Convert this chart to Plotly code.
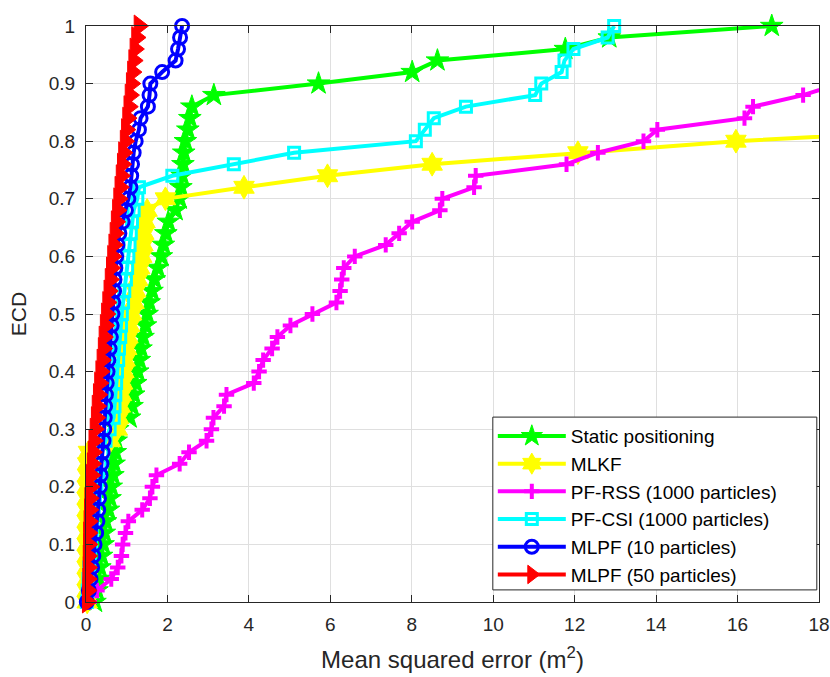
import plotly.graph_objects as go

# ECD levels (0, 0.02, ..., 1.0)
ecd = [round(0.02 * k, 2) for k in range(51)]

static_positioning = [0.22, 0.27, 0.31, 0.34, 0.38, 0.42, 0.45, 0.48, 0.55, 0.59, 0.62, 0.66, 0.69, 0.72, 0.74, 0.78,
                      1.07, 1.13, 1.17, 1.22, 1.27, 1.31, 1.35, 1.40, 1.46, 1.50, 1.55, 1.62, 1.68, 1.76, 1.85,
                      1.90, 1.96, 2.02, 2.20, 2.30, 2.33, 2.36, 2.38, 2.40, 2.44, 2.50, 2.55, 2.60,
                      3.14, 5.71, 8.01, 8.63, 11.77, 12.85, 16.84]
mlkf = [0.03, 0.03, 0.03, 0.03, 0.03, 0.03, 0.03, 0.03, 0.03, 0.03, 0.03, 0.04, 0.04, 0.06,
        0.60, 0.77, 0.80, 0.84, 0.87, 0.90, 0.93, 0.96, 1.00, 1.03, 1.07, 1.12, 1.18, 1.22, 1.27, 1.32,
        1.37, 1.40, 1.42, 1.45, 1.50,
        1.95, 3.88, 5.93, 8.50, 12.08, 15.96, 21.1, 23.5, 25.8, 28.0, 31.0, 34.5, 38.0, 43.0, 50.0, 62.0]
pf_rss = [0.08, 0.27, 0.62, 0.78, 0.87, 0.90, 0.97, 1.04, 1.38, 1.57, 1.63, 1.73, 2.30, 2.53, 2.96, 3.08,
          3.13, 3.39, 3.45, 4.12, 4.25, 4.35, 4.57, 4.70, 5.02, 5.56, 6.15, 6.24, 6.28, 6.33, 6.60,
          7.36, 7.69, 8.01, 8.69, 8.75, 9.53, 9.57, 11.80, 12.57, 13.69, 14.03, 16.17, 16.38, 17.61,
          18.5, 19.4, 20.6, 22.0, 24.5, 28.0]
pf_csi = [0.02, 0.04, 0.06, 0.08, 0.10, 0.12, 0.14, 0.16, 0.19, 0.22, 0.26, 0.30, 0.35, 0.40, 0.48, 0.58,
          0.68, 0.70, 0.72, 0.74, 0.76, 0.79, 0.81, 0.84, 0.86, 0.88, 0.91, 0.94, 0.98, 1.01, 1.04,
          1.07, 1.10, 1.13, 1.17,
          1.26, 1.30, 2.12, 3.63, 5.11, 8.10, 8.32, 8.54, 9.33, 11.03, 11.18, 11.68, 11.75, 11.97, 12.81, 12.97]
mlpf_10 = [0.02, 0.07, 0.11, 0.15, 0.18, 0.21, 0.25, 0.28, 0.30, 0.32, 0.34, 0.36, 0.38, 0.41, 0.43, 0.45,
           0.46, 0.47, 0.49, 0.51, 0.53, 0.55, 0.58, 0.61, 0.63, 0.65, 0.67, 0.69, 0.70, 0.72, 0.74,
           0.77, 0.82, 0.90, 0.98, 1.04, 1.09, 1.11, 1.13, 1.17, 1.22, 1.30, 1.34, 1.52, 1.56, 1.58,
           1.87, 2.20, 2.26, 2.31, 2.36]
mlpf_50 = [0.03, 0.04, 0.04, 0.05, 0.05, 0.06, 0.06, 0.07, 0.08, 0.09, 0.11, 0.13, 0.15, 0.17, 0.19, 0.22,
           0.25, 0.27, 0.30, 0.33, 0.36, 0.39, 0.42, 0.44, 0.47, 0.50, 0.53, 0.56, 0.59, 0.62, 0.65,
           0.68, 0.71, 0.74, 0.77, 0.80, 0.83, 0.86, 0.89, 0.92, 0.96, 0.99, 1.02, 1.05, 1.08, 1.11,
           1.14, 1.17, 1.20, 1.24, 1.30]

names = ["Static positioning", "MLKF", "PF-RSS (1000 particles)", "PF-CSI (1000 particles)",
         "MLPF (10 particles)", "MLPF (50 particles)"]
x_ticks = [0, 2, 4, 6, 8, 10, 12, 14, 16, 18]
y_ticks = [0, 0.1, 0.2, 0.3, 0.4, 0.5, 0.6, 0.7, 0.8, 0.9, 1]
y_tick_text = ["0", "0.1", "0.2", "0.3", "0.4", "0.5", "0.6", "0.7", "0.8", "0.9", "1"]

series = [static_positioning, mlkf, pf_rss, pf_csi, mlpf_10, mlpf_50]
styles = [
    dict(color="#00FF00", marker=dict(symbol="star", size=17, color="#00FF00", line=dict(color="#00FF00", width=1))),
    dict(color="#FFFF00", marker=dict(symbol="hexagram", size=18, color="#FFFF00", line=dict(color="#FFFF00", width=1))),
    dict(color="#FF00FF", marker=dict(symbol="cross-thin", size=11, color="#FF00FF", line=dict(color="#FF00FF", width=4))),
    dict(color="#00FFFF", marker=dict(symbol="square-open", size=11, color="#00FFFF", line=dict(color="#00FFFF", width=3))),
    dict(color="#0000FF", marker=dict(symbol="circle-open", size=13, color="#0000FF", line=dict(color="#0000FF", width=3))),
    dict(color="#FF0000", marker=dict(symbol="triangle-right", size=19, color="#FF0000", line=dict(color="#FF0000", width=1))),
]

fig = go.Figure()
for name, xs, st in zip(names, series, styles):
    fig.add_trace(go.Scatter(
        x=xs, y=ecd, name=name, mode="lines+markers",
        line=dict(color=st["color"], width=4),
        marker=st["marker"], cliponaxis=False,
    ))

FONT = "Liberation Sans, Arial, sans-serif"
axis_common = dict(
    showline=True, linecolor="#262626", linewidth=1, mirror="ticks",
    ticks="inside", ticklen=7, tickcolor="#262626", tickwidth=1,
    showgrid=True, gridcolor="#DFDFDF", gridwidth=1, zeroline=False,
    automargin=False,
    tickfont=dict(family=FONT, size=19, color="#262626"),
)

fig.update_xaxes(range=[0, 18], tickvals=x_ticks, ticktext=[str(v) for v in x_ticks],
                 ticklabelstandoff=5,
                 title=dict(text="Mean squared error (m<sup>2</sup>)", standoff=17,
                            font=dict(family=FONT, size=24, color="#262626")),
                 **axis_common)
fig.update_yaxes(range=[0, 1], tickvals=y_ticks, ticktext=y_tick_text,
                 ticklabelstandoff=6,
                 title=dict(text="ECD", standoff=16,
                            font=dict(family=FONT, size=21, color="#262626")),
                 **axis_common)

# legend frame (drawn above the data, below the legend entries)
fig.add_shape(type="rect", xref="paper", yref="paper",
              x0=0.555, x1=0.997, y0=0.021, y1=0.321,
              fillcolor="white", line=dict(color="#262626", width=1), layer="above")

fig.update_layout(
    width=830, height=677,
    margin=dict(l=86, r=11, t=26, b=75, autoexpand=False),
    plot_bgcolor="white", paper_bgcolor="white",
    showlegend=True,
    legend=dict(
        x=0.555, y=0.321, xanchor="left", yanchor="top",
        bgcolor="rgba(0,0,0,0)", borderwidth=0,
        font=dict(family=FONT, size=19, color="#000000"),
        itemwidth=68, tracegroupgap=0,
    ),
)

fig.write_html("out.html", config={"displayModeBar": False},
               post_script="document.body.style.margin='0px';document.body.style.overflow='hidden';")
